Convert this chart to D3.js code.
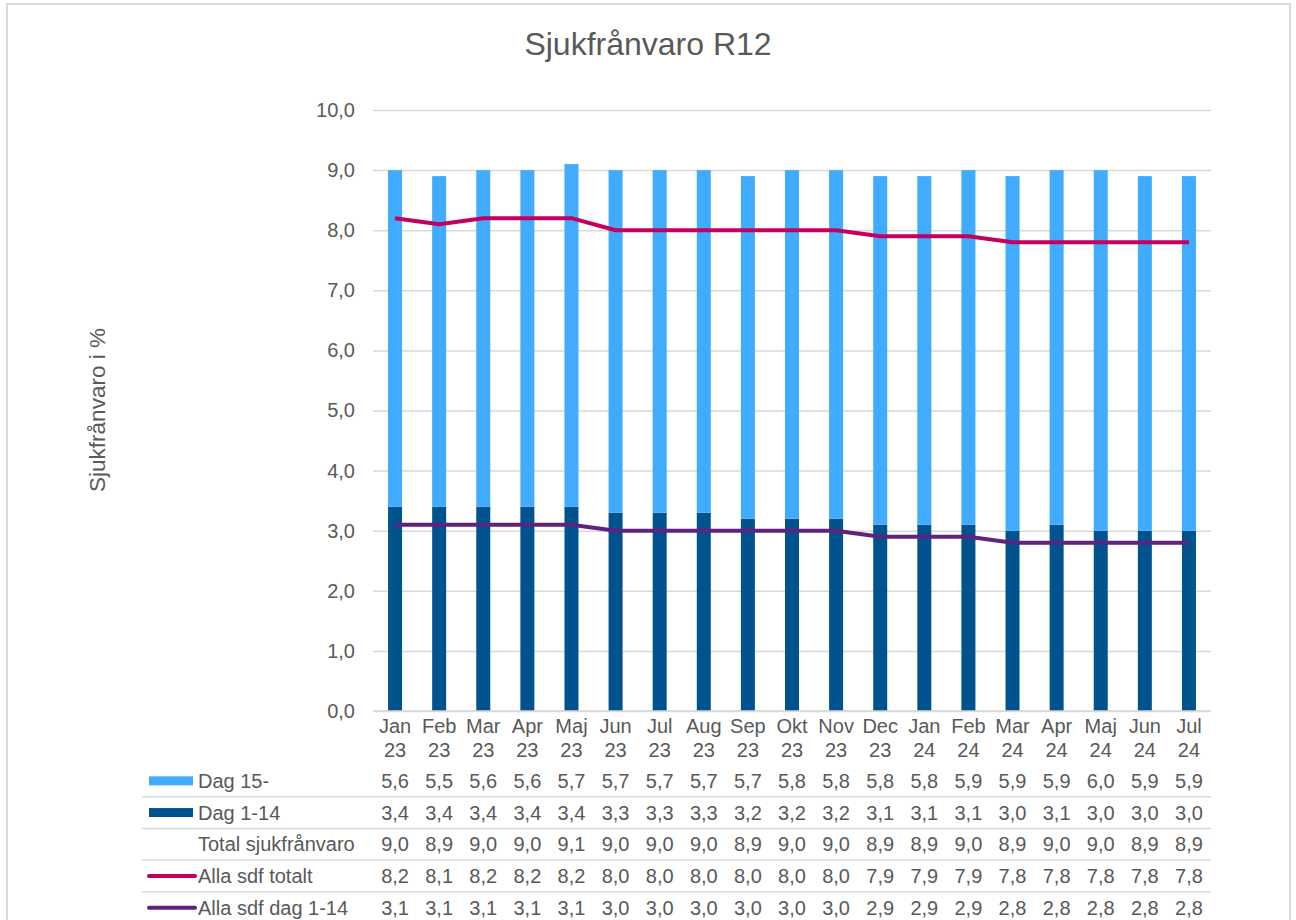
<!DOCTYPE html>
<html>
<head>
<meta charset="utf-8">
<script src="https://cdn.jsdelivr.net/npm/d3@7"></script>
<style>
  body { margin: 0; background: #fff; }
  svg { display: block; font-family: "Liberation Sans", Arial, sans-serif; }
</style>
</head>
<body>
<svg></svg>
<script>
// data
let months = ["Jan", "Feb", "Mar", "Apr", "Maj", "Jun", "Jul", "Aug", "Sep", "Okt", "Nov", "Dec", "Jan", "Feb", "Mar", "Apr", "Maj", "Jun", "Jul"]
let years = ["23", "23", "23", "23", "23", "23", "23", "23", "23", "23", "23", "23", "24", "24", "24", "24", "24", "24", "24"]
let dag15 = [5.6, 5.5, 5.6, 5.6, 5.7, 5.7, 5.7, 5.7, 5.7, 5.8, 5.8, 5.8, 5.8, 5.9, 5.9, 5.9, 6.0, 5.9, 5.9]
let dag1_14 = [3.4, 3.4, 3.4, 3.4, 3.4, 3.3, 3.3, 3.3, 3.2, 3.2, 3.2, 3.1, 3.1, 3.1, 3.0, 3.1, 3.0, 3.0, 3.0]
let total = [9.0, 8.9, 9.0, 9.0, 9.1, 9.0, 9.0, 9.0, 8.9, 9.0, 9.0, 8.9, 8.9, 9.0, 8.9, 9.0, 9.0, 8.9, 8.9]
let allaTotalt = [8.2, 8.1, 8.2, 8.2, 8.2, 8.0, 8.0, 8.0, 8.0, 8.0, 8.0, 7.9, 7.9, 7.9, 7.8, 7.8, 7.8, 7.8, 7.8]
let allaDag1_14 = [3.1, 3.1, 3.1, 3.1, 3.1, 3.0, 3.0, 3.0, 3.0, 3.0, 3.0, 2.9, 2.9, 2.9, 2.8, 2.8, 2.8, 2.8, 2.8]
let yTicks = [0, 1, 2, 3, 4, 5, 6, 7, 8, 9, 10]

let width = 1296
let height = 920
let plotLeft = 373
let plotRight = 1211
let plotTop = 110
let plotBottom = 711
let barWidth = 14
let fontSize = 20

let textColor = "#595959"
let gridColor = "#d9d9d9"
let lightBlue = "#40abff"
let darkBlue = "#00538f"
let pink = "#c4005f"
let purple = "#5f237f"

let svg = d3.select("svg")
    .attr("width", width)
    .attr("height", height)

let locale = d3.formatLocale({ decimal: ",", thousands: " ", grouping: [3], currency: ["", " kr"] })
let fmt = locale.format(".1f")

let idx = months.map((m, i) => i)

let xScale = d3.scaleBand()
    .domain(idx)
    .range([plotLeft, plotRight])
    .paddingInner(0.68)
    .paddingOuter(0.34)

let centre = (i) => xScale(i) + xScale.bandwidth() / 2

let yScale = d3.scaleLinear()
    .domain([0, 10])
    .range([plotBottom, plotTop])

// outer frame
svg.append("rect")
    .attr("x", 7)
    .attr("y", 4)
    .attr("width", 1283)
    .attr("height", 940)
    .attr("fill", "none")
    .attr("stroke", gridColor)
    .attr("stroke-width", 2)

// title
svg.append("text")
    .attr("x", 648)
    .attr("y", 55)
    .attr("text-anchor", "middle")
    .attr("font-size", 32)
    .attr("fill", textColor)
    .text("Sjukfrånvaro R12")

// y axis title
svg.append("text")
    .attr("transform", "translate(105, 410) rotate(-90)")
    .attr("text-anchor", "middle")
    .attr("font-size", 22.5)
    .attr("fill", textColor)
    .text("Sjukfrånvaro i %")

// gridlines and y labels through an axis
let yAxis = d3.axisLeft(yScale)
    .tickValues(yTicks)
    .tickSize(-(plotRight - plotLeft))
    .tickPadding(18)
    .tickFormat(fmt)

let gy = svg.append("g")
    .attr("transform", "translate(" + plotLeft + ",0)")
    .call(yAxis)
gy.select(".domain").remove()
gy.selectAll(".tick line").attr("stroke", gridColor).attr("stroke-width", 1.5)
gy.selectAll(".tick text")
    .attr("fill", textColor)
    .attr("font-size", fontSize)
    .attr("font-family", "Liberation Sans, Arial, sans-serif")

// stacked bars
let stackData = idx.map((i) => ({ i: i, low: dag1_14[i], high: dag15[i] }))

svg.append("g").selectAll("rect")
    .data(stackData)
    .enter()
    .append("rect")
    .attr("x", (d) => centre(d.i) - barWidth / 2)
    .attr("width", barWidth)
    .attr("y", (d) => yScale(d.low))
    .attr("height", (d) => yScale(0) - yScale(d.low))
    .attr("fill", darkBlue)

svg.append("g").selectAll("rect")
    .data(stackData)
    .enter()
    .append("rect")
    .attr("x", (d) => centre(d.i) - barWidth / 2)
    .attr("width", barWidth)
    .attr("y", (d) => yScale(d.low + d.high))
    .attr("height", (d) => yScale(d.low) - yScale(d.low + d.high))
    .attr("fill", lightBlue)

// baseline over the bars
svg.append("line")
    .attr("x1", plotLeft)
    .attr("x2", plotRight)
    .attr("y1", yScale(0))
    .attr("y2", yScale(0))
    .attr("stroke", gridColor)
    .attr("stroke-width", 1.5)

// lines
let line = d3.line()
    .x((d, i) => centre(i))
    .y((d) => yScale(d))

let drawLine = (values, colour) => {
    svg.append("path")
        .datum(values)
        .attr("d", line)
        .attr("fill", "none")
        .attr("stroke", colour)
        .attr("stroke-width", 4)
        .attr("stroke-linejoin", "round")
}
drawLine(allaTotalt, pink)
drawLine(allaDag1_14, purple)

// category labels
let catG = svg.append("g")
catG.selectAll("text.m")
    .data(idx)
    .enter()
    .append("text")
    .attr("class", "m")
    .attr("x", (i) => centre(i))
    .attr("y", 733)
    .attr("text-anchor", "middle")
    .attr("font-size", fontSize)
    .attr("fill", textColor)
    .text((i) => months[i])
catG.selectAll("text.yr")
    .data(idx)
    .enter()
    .append("text")
    .attr("class", "yr")
    .attr("x", (i) => centre(i))
    .attr("y", 757)
    .attr("text-anchor", "middle")
    .attr("font-size", fontSize)
    .attr("fill", textColor)
    .text((i) => years[i])

// data table
let rows = [
    { label: "Dag 15-", values: dag15, key: "rect", colour: lightBlue },
    { label: "Dag 1-14", values: dag1_14, key: "rect", colour: darkBlue },
    { label: "Total sjukfrånvaro", values: total, key: "none" },
    { label: "Alla sdf totalt", values: allaTotalt, key: "line", colour: pink },
    { label: "Alla sdf dag 1-14", values: allaDag1_14, key: "line", colour: purple }
]

let rowTop = 765
let rowH = 31.7
let tableLeft = 142

rows.forEach((row, r) => {
    let mid = rowTop + rowH * r + rowH / 2
    let g = svg.append("g")

    if (r < rows.length - 1) {
        g.append("line")
            .attr("x1", tableLeft)
            .attr("x2", plotRight)
            .attr("y1", rowTop + rowH * (r + 1))
            .attr("y2", rowTop + rowH * (r + 1))
            .attr("stroke", gridColor)
            .attr("stroke-width", 1.5)
    }

    if (row.key == "rect") {
        g.append("rect")
            .attr("x", 149)
            .attr("y", mid - 4.5)
            .attr("width", 44)
            .attr("height", 9)
            .attr("fill", row.colour)
    } else if (row.key == "line") {
        g.append("line")
            .attr("x1", 149)
            .attr("x2", 195)
            .attr("y1", mid)
            .attr("y2", mid)
            .attr("stroke", row.colour)
            .attr("stroke-width", 4)
            .attr("stroke-linecap", "round")
    }

    g.append("text")
        .attr("x", 198)
        .attr("y", mid + 7)
        .attr("font-size", fontSize)
        .attr("fill", textColor)
        .text(row.label)

    g.selectAll("text.v")
        .data(row.values)
        .enter()
        .append("text")
        .attr("class", "v")
        .attr("x", (d, i) => centre(i))
        .attr("y", mid + 7)
        .attr("text-anchor", "middle")
        .attr("font-size", fontSize)
        .attr("fill", textColor)
        .text((d) => fmt(d))
})
</script>
</body>
</html>
